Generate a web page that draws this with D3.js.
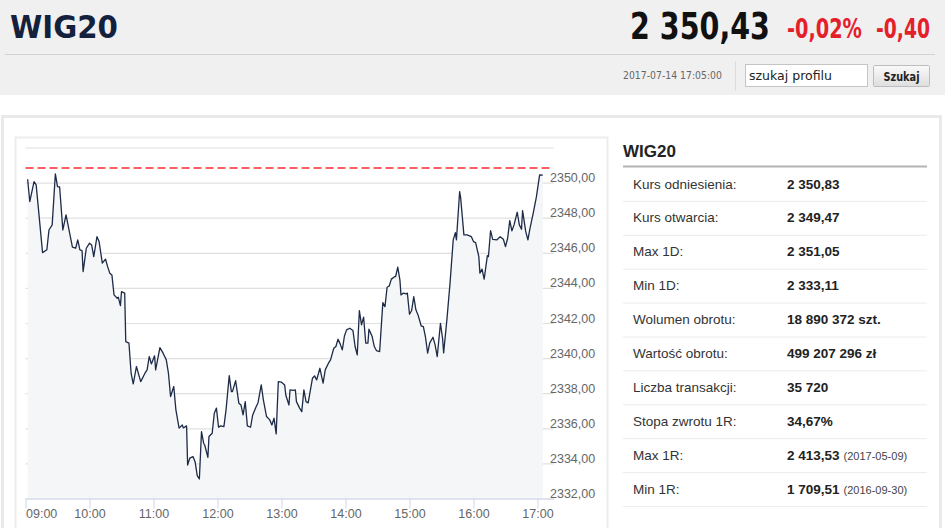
<!DOCTYPE html>
<html>
<head>
<meta charset="utf-8">
<script src="https://cdn.jsdelivr.net/npm/d3@7"></script>
<style>
  html, body { margin: 0; padding: 0; background: #fff; }
  svg { display: block; font-family: "Liberation Sans", Arial, sans-serif; }
</style>
</head>
<body>
<svg id="page" width="945" height="528"></svg>
<script>
// ---- data ----
const indexName = "WIG20";
const lastValue = "2 350,43";
const changePct = "-0,02%";
const changeAbs = "-0,40";
const stamp = "2017-07-14 17:05:00";
const refValue = 2350.83;

const times = [
  "09:02","09:04","09:08","09:10","09:16","09:20","09:22","09:25","09:28","09:30","09:32","09:35","09:38","09:44","09:47","09:49","09:51","09:53","09:54","09:57",
  "10:00","10:02","10:04","10:07","10:09","10:12","10:15","10:17","10:19","10:21","10:23","10:26","10:27","10:29","10:30","10:33","10:34","10:37","10:39","10:41","10:44","10:48","10:52","10:54","10:56","10:58",
  "11:01","11:02","11:06","11:09","11:12","11:14","11:16","11:19","11:21","11:24","11:27","11:28","11:31","11:32","11:34","11:37","11:39","11:41","11:43","11:45","11:47","11:48","11:51","11:52","11:55","11:57","11:59",
  "12:01","12:03","12:06","12:08","12:11","12:13","12:14","12:17","12:20","12:22","12:24","12:26","12:28","12:31","12:33","12:36","12:38","12:41","12:43","12:46","12:49","12:51","12:53","12:55","12:57",
  "13:00","13:03","13:04","13:07","13:08","13:11","13:13","13:14","13:17","13:19","13:21","13:23","13:25","13:29","13:31","13:33","13:36","13:39","13:41","13:44","13:46","13:49","13:51","13:53","13:55","13:57","13:59",
  "14:01","14:04","14:07","14:09","14:11","14:13","14:15","14:17","14:19","14:21","14:22","14:25","14:27","14:29","14:32","14:35","14:37","14:39","14:41","14:43","14:46","14:47","14:49","14:51","14:52","14:54","14:57","14:58",
  "15:00","15:02","15:04","15:06","15:08","15:11","15:13","15:15","15:17","15:19","15:22","15:24","15:26","15:29","15:31","15:32","15:35","15:38","15:41","15:43","15:44","15:47","15:48","15:51","15:54","15:58",
  "16:00","16:02","16:05","16:06","16:08","16:10","16:13","16:14","16:16","16:18","16:22","16:25","16:28","16:30","16:32","16:34","16:36","16:38","16:41","16:43","16:45","16:46","16:49","16:51","16:53","16:56","16:59",
  "17:02","17:05"
];
const values = [
  2350.19,2348.92,2350.06,2349.87,2346.01,2346.17,2347.30,2347.59,2350.50,2349.77,2349.75,2347.30,2348.16,2346.32,2346.26,2346.74,2346.17,2346.13,2344.93,2346.26,
  2346.55,2346.45,2345.78,2346.92,2346.64,2345.41,2345.64,2345.21,2344.84,2344.74,2343.60,2343.41,2343.47,2342.99,2343.79,2343.70,2340.94,2340.85,2339.14,2338.53,2339.52,2338.66,2339.14,2339.33,2340.09,2339.67,
  2340.13,2339.33,2340.60,2340.28,2339.90,2339.14,2337.81,2338.38,2337.05,2336.01,2336.19,2336.02,2336.14,2333.91,2334.30,2334.39,2334.10,2333.30,2333.11,2335.81,2335.15,2335.05,2334.35,2335.53,2335.72,2336.86,2337.15,
  2336.06,2336.14,2336.10,2337.05,2339.00,2338.09,2338.09,2338.72,2337.43,2337.33,2336.76,2337.52,2336.14,2336.06,2336.76,2337.20,2337.46,2338.47,2337.62,2336.67,2336.48,2336.19,2336.58,2335.68,2338.66,
  2338.63,2338.47,2337.90,2337.33,2338.19,2338.16,2338.19,2337.52,2337.15,2336.95,2338.19,2337.52,2337.45,2338.85,2338.99,2338.76,2339.42,2338.57,2339.33,2339.71,2339.90,2340.56,2340.66,2341.08,2340.81,2340.47,2341.26,
  2341.61,2341.70,2341.57,2340.66,2340.18,2342.71,2341.89,2342.33,2340.85,2340.85,2341.65,2341.23,2340.66,2340.43,2340.37,2343.16,2342.93,2344.04,2344.11,2344.50,2344.64,2344.65,2345.18,2344.46,2343.60,2343.70,2343.66,2343.70,
  2342.50,2342.71,2343.50,2342.75,2342.46,2341.83,2341.79,2341.19,2340.28,2340.87,2341.19,2340.75,2340.09,2341.98,2341.13,2340.30,2342.15,2344.27,2346.74,2347.15,2346.74,2349.49,2349.11,2347.02,2347.02,2346.92,
  2346.64,2346.58,2345.78,2344.84,2345.07,2344.50,2345.84,2345.78,2347.26,2346.77,2346.74,2346.92,2346.77,2346.35,2346.83,2347.83,2347.25,2347.59,2348.31,2347.59,2347.34,2348.40,2347.21,2346.74,2347.40,2348.26,2349.20,
  2350.44,2350.43
];

const xTickLabels = ["09:00","10:00","11:00","12:00","13:00","14:00","15:00","16:00","17:00"];
const yGridValues = [2332,2334,2336,2338,2340,2342,2344,2346,2348,2350,2352];
const yLabelValues = [2332,2334,2336,2338,2340,2342,2344,2346,2348,2350];
const xDomain = ["09:00","17:15"];

const statLabels = ["Kurs odniesienia:","Kurs otwarcia:","Max 1D:","Min 1D:","Wolumen obrotu:","Wartość obrotu:","Liczba transakcji:","Stopa zwrotu 1R:","Max 1R:","Min 1R:"];
const statValues = ["2 350,83","2 349,47","2 351,05","2 333,11","18 890 372 szt.","499 207 296 zł","35 720","34,67%","2 413,53","1 709,51"];
const statNotes  = ["","","","","","","","","(2017-05-09)","(2016-09-30)"];

// ---- drawing ----
const svg = d3.select("#page");
const narrow = '"Liberation Sans Narrow", "DejaVu Sans Condensed", "Liberation Sans", sans-serif';

// place a text at (x, baseline y) and squeeze it horizontally to a target width
function fitText(str, x, y, width, opts) {
  const g = svg.append("g");
  const t = g.append("text").attr("x", 0).attr("y", 0).text(str)
    .attr("font-family", opts.family || narrow)
    .attr("font-size", opts.size)
    .attr("font-weight", opts.weight || "normal")
    .attr("fill", opts.fill);
  if (opts.anchor) t.attr("text-anchor", opts.anchor);
  const w = t.node().getComputedTextLength();
  const sx = w > 0 ? width / w : 1;
  g.attr("transform", `translate(${x},${y}) scale(${sx},1)`);
  return t;
}

// header band
svg.append("rect").attr("x",0).attr("y",0).attr("width",945).attr("height",95).attr("fill","#f0f0f0");
svg.append("line").attr("x1",5).attr("x2",935).attr("y1",54.5).attr("y2",54.5).attr("stroke","#d2d2d2");

fitText(indexName, 10, 38, 108, { size: 32, weight: "bold", fill: "#14213d" });
fitText(lastValue, 630, 39, 140, { size: 38, weight: "bold", fill: "#111" });
fitText(changePct, 787, 38, 75, { size: 27, weight: "bold", fill: "#e4202b" });
fitText(changeAbs, 876, 38, 54, { size: 27, weight: "bold", fill: "#e4202b" });

fitText(stamp, 623, 79, 99, { size: 11, fill: "#666" });
svg.append("line").attr("x1",735.5).attr("x2",735.5).attr("y1",61).attr("y2",91).attr("stroke","#dcdcdc");

svg.append("rect").attr("x",745.5).attr("y",64.5).attr("width",122).attr("height",22)
  .attr("fill","#fff").attr("stroke","#c4c4c4");
fitText("szukaj profilu", 749, 80, 83, { size: 13, fill: "#222" });

const defs = svg.append("defs");
const grad = defs.append("linearGradient").attr("id","btn").attr("x1",0).attr("x2",0).attr("y1",0).attr("y2",1);
grad.append("stop").attr("offset","0%").attr("stop-color","#fafafa");
grad.append("stop").attr("offset","100%").attr("stop-color","#dedede");
svg.append("rect").attr("x",873.5).attr("y",65.5).attr("width",56).attr("height",21)
  .attr("fill","url(#btn)").attr("stroke","#bdbdbd").attr("rx",1);
fitText("Szukaj", 883.5, 81, 36, { size: 12.5, weight: "bold", fill: "#222" });

// outer panel
svg.append("rect").attr("x",2.5).attr("y",116.5).attr("width",938).attr("height",430)
  .attr("fill","#fff").attr("stroke","#e9e9e9").attr("stroke-width",3);
// chart panel
svg.append("rect").attr("x",15.5).attr("y",137.5).attr("width",592).attr("height",420)
  .attr("fill","#fff").attr("stroke","#ededed").attr("stroke-width",2);

// scales
const parseT = d3.timeParse("%H:%M");
const data = times.map((t,i) => ({ t: parseT(t), v: values[i] }));
const x = d3.scaleTime().domain(xDomain.map(parseT)).range([25.5, 553.5]);
const y = d3.scaleLinear().domain([2332, 2352]).range([498.5, 147.5]);

// grid lines
const grid = svg.append("g").attr("transform", `translate(${x.range()[0]},0)`)
  .call(d3.axisRight(y).tickValues(yGridValues).tickSize(x.range()[1]-x.range()[0]).tickFormat(""));
grid.select(".domain").remove();
grid.selectAll("line").attr("stroke","#e0e0e0").attr("stroke-width",1.2);

// area
svg.append("path").datum(data)
  .attr("d", d3.area().x(d => x(d.t)).y0(y(2332)).y1(d => y(d.v)))
  .attr("fill","#f4f6f8");

// reference dashed line
svg.append("line").attr("x1",x.range()[0]).attr("x2",x.range()[1])
  .attr("y1",y(refValue)).attr("y2",y(refValue))
  .attr("stroke","#ff2b2b").attr("stroke-width",1.5).attr("stroke-dasharray","8,4");

// price line
svg.append("path").datum(data)
  .attr("d", d3.line().x(d => x(d.t)).y(d => y(d.v)))
  .attr("fill","none").attr("stroke","#1e2b47").attr("stroke-width",1.3).attr("stroke-linejoin","round");

// y labels
const yl = svg.append("g").attr("transform","translate(550,0)")
  .call(d3.axisRight(y).tickValues(yLabelValues).tickSize(0).tickPadding(0)
    .tickFormat(d => d3.format(".2f")(d).replace(".", ",")));
yl.select(".domain").remove();
yl.selectAll(".tick text").attr("font-family",'"Liberation Sans", Arial, sans-serif').attr("font-size",12.5)
  .attr("fill","#666").attr("x",0).attr("dy",null).attr("y",-1);

// x axis
const xa = svg.append("g").attr("transform",`translate(0,${y(2332)})`)
  .call(d3.axisBottom(x).tickValues(xTickLabels.map(parseT)).tickSize(10).tickSizeOuter(0)
    .tickFormat(d3.timeFormat("%H:%M")));
xa.select(".domain").attr("stroke","#ccd6eb");
xa.selectAll(".tick line").attr("stroke","#ccd6eb");
xa.selectAll(".tick text").attr("font-family",'"Liberation Sans", Arial, sans-serif').attr("font-size",12.5)
  .attr("fill","#666").attr("y",19).attr("dy",0);
xa.selectAll(".tick text").filter((d,i) => i === 0).attr("text-anchor","start");

// right stats panel
svg.append("text").attr("x",623).attr("y",157).text(indexName)
  .attr("font-weight","bold").attr("font-size",17).attr("fill","#222");
svg.append("line").attr("x1",623).attr("x2",927).attr("y1",166.5).attr("y2",166.5)
  .attr("stroke","#b3b3b3").attr("stroke-width",2);

const rowH = 33.9;
const rows = svg.append("g").selectAll("g").data(statLabels).join("g")
  .attr("transform",(d,i) => `translate(0,${167 + rowH*i})`);
rows.append("line").attr("x1",623).attr("x2",927).attr("y1",rowH+0.5).attr("y2",rowH+0.5)
  .attr("stroke","#ececec");
rows.append("text").attr("x",633).attr("y",21.5).text(d => d)
  .attr("font-size",13.5).attr("fill","#333");
const vt = rows.append("text").attr("x",787).attr("y",21.5);
vt.append("tspan").text((d,i) => statValues[i]).attr("font-weight","bold").attr("font-size",13.5).attr("fill","#222");
vt.append("tspan").text((d,i) => statNotes[i]).attr("dx",4).attr("font-size",11).attr("fill","#444");
</script>
</body>
</html>
